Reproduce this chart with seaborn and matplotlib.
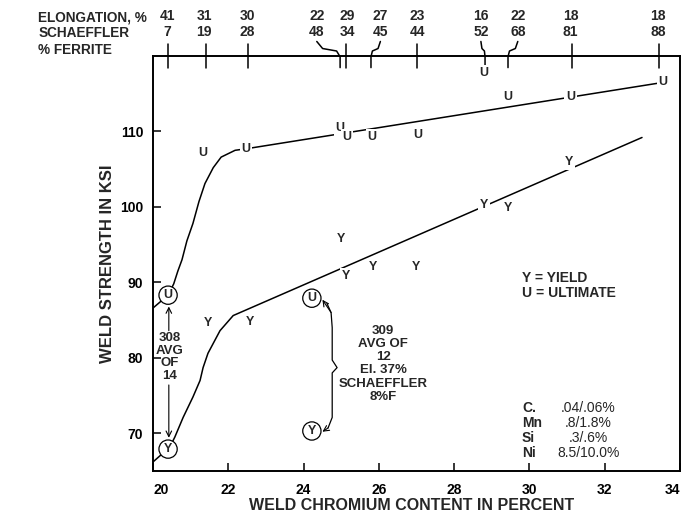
import matplotlib
matplotlib.use("Agg")
import matplotlib.pyplot as plt
import seaborn as sns
import pandas as pd
from matplotlib.transforms import blended_transform_factory

# weld chromium (%) vs strength (ksi)
u_cr = [21.33, 22.47, 24.97, 25.15, 25.82, 27.04, 28.79, 29.43, 31.1, 33.55]
u_ksi = [107.1, 107.7, 110.5, 109.3, 109.3, 109.5, 117.8, 114.6, 114.6, 116.5]
y_cr = [21.46, 22.58, 24.99, 25.13, 25.85, 26.99, 28.79, 29.43, 31.05]
y_ksi = [84.6, 84.7, 95.8, 90.9, 92.0, 92.0, 100.3, 99.9, 105.9]

# averages for type 308 and 309 (circled)
avg_cr = [20.40, 24.22]
avg_u = [88.3, 87.9]
avg_y = [67.9, 70.3]

# hand drawn trend curves
u_trend_cr = [20.0, 20.40, 20.55, 20.66, 20.77, 20.9, 21.06, 21.22, 21.38, 21.6,
              21.81, 22.18, 22.47, 33.55]
u_trend_ksi = [86.6, 88.3, 89.8, 91.5, 93.0, 95.5, 97.8, 100.7, 103.1, 105.2,
               106.6, 107.5, 107.7, 116.5]
y_trend_cr = [20.0, 20.25, 20.42, 20.58, 20.8, 21.06, 21.25, 21.33, 21.46, 21.78,
              22.13, 32.99]
y_trend_ksi = [66.2, 67.3, 67.9, 69.5, 72.1, 74.8, 77.0, 78.7, 80.6, 83.6,
               85.6, 109.2]

# top scale: elongation and schaeffler ferrite for each test
top_tick_cr = [20.40, 21.41, 22.52, 24.97, 25.13, 25.79, 27.01, 28.82, 29.43, 31.13, 33.44]
top_label_cr = [20.38, 21.36, 22.5, 24.35, 25.16, 26.04, 27.03, 28.71, 29.69, 31.09, 33.42]
elongation = [41, 31, 30, 22, 29, 27, 23, 16, 22, 18, 18]
ferrite = [7, 19, 28, 48, 34, 45, 44, 52, 68, 81, 88]

x_ticks = [20, 22, 24, 26, 28, 30, 32, 34]
y_ticks = [70, 80, 90, 100, 110]

elements = ["C.", "Mn", "Si", "Ni"]
ranges = [".04/.06%", ".8/1.8%", ".3/.6%", "8.5/10.0%"]

# brace pointing at the 309 averages
brace_cr = [24.62, 24.73, 24.76, 24.76, 24.89, 24.76, 24.76, 24.65]
brace_ksi = [87.2, 86.0, 84.0, 79.7, 78.7, 78.0, 72.1, 70.7]

sns.set_style("white")
plt.rcParams["font.family"] = ["Liberation Sans", "DejaVu Sans"]
plt.rcParams["font.weight"] = "bold"

fig = plt.figure(figsize=(6.93, 5.17), dpi=100)
ax = fig.add_axes([0.2208, 0.089, 0.7605, 0.8027])

u_df = pd.DataFrame({"cr": u_trend_cr, "ksi": u_trend_ksi})
y_df = pd.DataFrame({"cr": y_trend_cr, "ksi": y_trend_ksi})
sns.lineplot(data=u_df, x="cr", y="ksi", sort=False, estimator=None, color="black", lw=1.1, ax=ax)
sns.lineplot(data=y_df, x="cr", y="ksi", sort=False, estimator=None, color="black", lw=1.1, ax=ax)

box = dict(boxstyle="square,pad=0.15", fc="white", ec="none")
for x, v in zip(u_cr, u_ksi):
    ax.text(x, v, "U", ha="center", va="center", fontsize=9, bbox=box, zorder=5)
for x, v in zip(y_cr, y_ksi):
    ax.text(x, v, "Y", ha="center", va="center", fontsize=9, bbox=box, zorder=5)

ring = dict(boxstyle="circle,pad=0.25", fc="white", ec="black", lw=0.9)
for x, u, yv in zip(avg_cr, avg_u, avg_y):
    ax.text(x, u, "U", ha="center", va="center", fontsize=9, bbox=ring, zorder=6)
    ax.text(x, yv, "Y", ha="center", va="center", fontsize=9, bbox=ring, zorder=6)

arrow = dict(arrowstyle="->", lw=0.8, mutation_scale=10, shrinkA=0, shrinkB=0, color="black")

# 308 note
ax.annotate("", xy=(20.42, 86.8), xytext=(20.42, 83.6), arrowprops=arrow)
ax.annotate("", xy=(20.42, 69.4), xytext=(20.42, 76.4), arrowprops=arrow)
ax.text(20.45, 80.1, "308\nAVG\nOF\n14", ha="center", va="center", fontsize=9.5,
        linespacing=1.05)

# 309 note
ax.plot(brace_cr, brace_ksi, color="black", lw=0.9)
ax.annotate("", xy=(24.5, 87.7), xytext=(brace_cr[1], brace_ksi[1]), arrowprops=arrow)
ax.annotate("", xy=(24.5, 70.2), xytext=(brace_cr[-1], brace_ksi[-1]), arrowprops=arrow)
ax.text(26.11, 79.2, "309\nAVG OF\n12\nEl. 37%\nSCHAEFFLER\n8%F", ha="center", va="center",
        fontsize=9.5, linespacing=1.13)

ax.text(29.8, 89.6, "Y = YIELD\nU = ULTIMATE", ha="left", va="center", fontsize=10, linespacing=1.1)
for i, (el, rg) in enumerate(zip(elements, ranges)):
    ax.text(29.8, 73.3 - i * 1.99, el, ha="left", va="center", fontsize=10)
    ax.text(31.56, 73.3 - i * 1.99, rg, ha="center", va="center", fontsize=10, fontweight="normal")

# top scale drawn by hand like the original
trans = blended_transform_factory(ax.transData, ax.transAxes)
for tx, lx, el, fe in zip(top_tick_cr, top_label_cr, elongation, ferrite):
    if abs(tx - lx) < 0.1:
        xs, ys = [tx, tx], [1.03, 0.972]
    else:
        xs = [lx, lx + (tx - lx) * 0.25, lx + (tx - lx) * 0.85, tx, tx]
        ys = [1.035, 1.018, 1.012, 0.998, 0.972]
    ax.plot(xs, ys, color="black", lw=1.1, transform=trans, clip_on=False)
    ax.text(lx, 1.096, str(el), ha="center", va="center", fontsize=10, transform=trans)
    ax.text(lx, 1.058, str(fe), ha="center", va="center", fontsize=10, transform=trans)

fig.text(0.055, 0.967, "ELONGATION, %", ha="left", va="center", fontsize=9.8)
fig.text(0.055, 0.936, "SCHAEFFLER", ha="left", va="center", fontsize=9.8)
fig.text(0.055, 0.903, "% FERRITE", ha="left", va="center", fontsize=9.8)

ax.set_xlim(20, 34)
ax.set_ylim(65, 120)
ax.set_xticks(x_ticks)
ax.set_yticks(y_ticks)
ax.tick_params(direction="in", length=6, width=1.1, labelsize=10, pad=7, colors="black",
               bottom=True, left=True)
ax.tick_params(axis="x", pad=9)
xlabels = ax.get_xticklabels()
xlabels[0].set_horizontalalignment("left")
xlabels[-1].set_horizontalalignment("right")
for s in ax.spines.values():
    s.set_color("black")
    s.set_linewidth(1.4)

ax.set_xlabel("WELD CHROMIUM CONTENT IN PERCENT", fontsize=11.5, fontweight="bold", va="center")
ax.set_ylabel("WELD STRENGTH IN KSI", fontsize=12, fontweight="bold", va="center")
ax.xaxis.set_label_coords(0.49, -0.082)
ax.yaxis.set_label_coords(-0.087, 0.5)

plt.savefig("out.png", dpi=100)
